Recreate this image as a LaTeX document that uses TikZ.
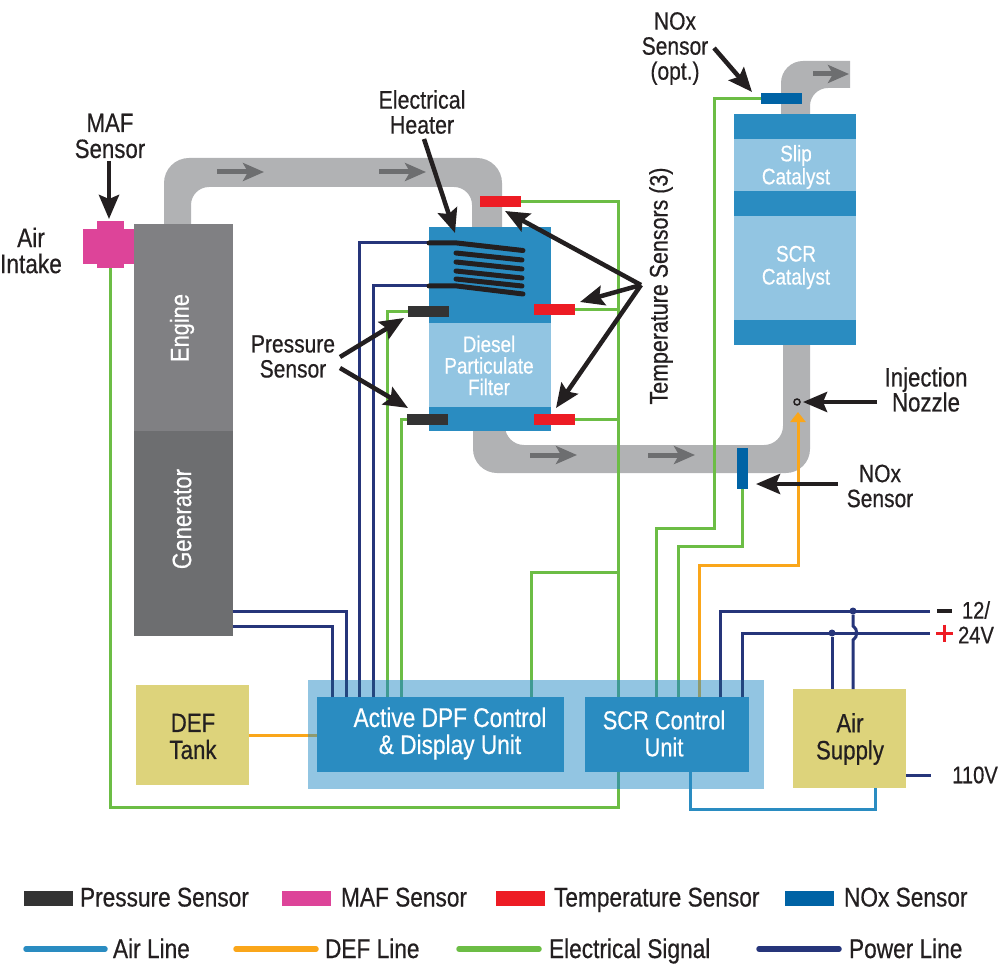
\documentclass[tikz,border=0pt]{standalone}
\usepackage{fontspec}
\setmainfont[FakeStretch=0.84,FakeBold=0.5]{Liberation Sans}
\usetikzlibrary{arrows.meta}
\definecolor{pipegray}{HTML}{B1B2B4}
\definecolor{flowgray}{HTML}{6D6E70}
\definecolor{enginegray}{HTML}{808083}
\definecolor{gengray}{HTML}{6D6E70}
\definecolor{ink}{HTML}{231F20}
\definecolor{boxblue}{HTML}{2A8CC1}
\definecolor{paleblue}{HTML}{92C5E2}
\definecolor{sand}{HTML}{DDD37B}
\definecolor{sigline}{HTML}{6CBD45}
\definecolor{powline}{HTML}{26357A}
\definecolor{defline}{HTML}{FAA61A}
\definecolor{sensdark}{HTML}{333333}
\definecolor{sensred}{HTML}{ED1C24}
\definecolor{sensnox}{HTML}{0063A5}
\definecolor{sensmaf}{HTML}{DD4499}
\definecolor{sigplate}{HTML}{3F9A93}
\definecolor{powplate}{HTML}{24477F}
\definecolor{defplate}{HTML}{8F9A6E}
\tikzset{
  block/.style 2 args={rectangle,inner sep=0pt,outer sep=0pt,minimum width=#1,minimum height=#2},
  sensorbar/.style={block={41pt}{11pt}},
  keybar/.style={block={49pt}{15pt},anchor=west},
  lbl/.style={inner sep=0pt,outer sep=0pt,align=center,text=ink,font=\fontsize{24}{25}\selectfont},
  sized/.style 2 args={font=\fontsize{#1}{#2}\selectfont},
  whitelbl/.style={lbl,text=white},
  smalllbl/.style={whitelbl,sized={22.5}{21.5}},
  pipe/.style={fill=pipegray},
  flow/.style={draw=flowgray,line width=5pt,-{Stealth[length=21pt,width=18pt,inset=5pt]}},
  callout/.style={draw=ink,line width=4.5pt,-{Stealth[length=24pt,width=20pt,inset=4pt]}},
  wire/.style={line width=3pt},
  sig/.style={wire,draw=sigline},
  pow/.style={wire,draw=powline},
  defl/.style={wire,draw=defline},
  airl/.style={wire,draw=boxblue},
  coil/.style={draw=ink,line width=5pt,line cap=round},
  keyline/.style={line width=5.5pt,line cap=round},
  keytext/.style={lbl,sized={27}{27},anchor=base west},
  joint/.style={circle,fill=powline,minimum size=7pt,inner sep=0pt,outer sep=0pt},
}
\begin{document}
\begin{tikzpicture}[x=1pt,y=-1pt]
\useasboundingbox (0,0) rectangle (1000,965);

% exhaust piping
\fill[pipe] (164,226) [rounded corners=25pt] -- (164,158) -- (502,158) [rounded corners=0pt] -- (502,230) -- (472,230) [rounded corners=18pt] -- (472,187) -- (191,187) [rounded corners=0pt] -- (191,226) -- cycle;
\fill[pipe] (473,428) [rounded corners=24pt] -- (473,473) -- (810,473) [rounded corners=0pt] -- (810,342) -- (783,342) [rounded corners=19pt] -- (783,445) -- (505,445) [rounded corners=0pt] -- (505,428) -- cycle;
\fill[pipe] (781,116) [rounded corners=22pt] -- (781,61) [rounded corners=0pt] -- (850,61) -- (850,88) [rounded corners=18pt] -- (810,88) [rounded corners=0pt] -- (810,116) -- cycle;

% flow direction marks
\coordinate (f1a) at (217,172); \coordinate (f1b) at (264,172);
\coordinate (f2a) at (379,172); \coordinate (f2b) at (426,172);
\coordinate (f3a) at (530,455); \coordinate (f3b) at (577,455);
\coordinate (f4a) at (648,455); \coordinate (f4b) at (695,455);
\coordinate (f5a) at (813,74);  \coordinate (f5b) at (849,74);
\draw[flow] (f1a) -- (f1b);
\draw[flow] (f2a) -- (f2b);
\draw[flow] (f3a) -- (f3b);
\draw[flow] (f4a) -- (f4b);
\draw[flow] (f5a) -- (f5b);

% engine and generator
\node[block={99pt}{207pt},fill=enginegray] (engine) at (183,327.5) {};
\node[block={99pt}{205pt},fill=gengray] (generator) at (183,533.5) {};
\node[whitelbl,sized={26}{25},rotate=90] (enginetxt) at (182,328) {Engine};
\node[whitelbl,sized={26.5}{25},rotate=90] (gentxt) at (182,519) {Generator};

% diesel particulate filter
\node[block={122pt}{96pt},fill=boxblue] (dpfA) at (490,275) {};
\node[block={122pt}{84pt},fill=paleblue] (dpfB) at (490,365) {};
\node[block={122pt}{24pt},fill=boxblue] (dpfC) at (490,419) {};
\node[smalllbl] (dpftxt) at (489,365.5) {Diesel\\Particulate\\Filter};

% catalyst housing
\node[block={122pt}{25pt},fill=boxblue] (catA) at (795,126.5) {};
\node[block={122pt}{52pt},fill=paleblue] (catB) at (795,165) {};
\node[block={122pt}{25pt},fill=boxblue] (catC) at (795,203.5) {};
\node[block={122pt}{104pt},fill=paleblue] (catD) at (795,268) {};
\node[block={122pt}{25pt},fill=boxblue] (catE) at (795,332.5) {};
\node[smalllbl,sized={22.5}{23}] (sliptxt) at (796,167) {Slip\\Catalyst};
\node[smalllbl,sized={22.5}{23}] (scrtxt) at (796,267.5) {SCR\\Catalyst};

% control cabinet, tank and air supply
\node[block={456pt}{109pt},fill=paleblue] (plate) at (536,734.5) {};
\node[block={247pt}{75pt},fill=boxblue] (dpfunit) at (440.5,734.5) {};
\node[block={164pt}{75pt},fill=boxblue] (scrunit) at (667,734.5) {};
\node[block={113pt}{100pt},fill=sand] (tank) at (192.5,735) {};
\node[block={113pt}{99pt},fill=sand] (airsup) at (849.5,738.5) {};

% sensors
\node[sensorbar,fill=sensred] (t1) at (500.5,201.5) {};
\node[sensorbar,fill=sensred] (t2) at (554.5,309.5) {};
\node[sensorbar,fill=sensred] (t3) at (554.5,419.5) {};
\node[sensorbar,fill=sensdark] (p1) at (428.5,311.5) {};
\node[sensorbar,fill=sensdark] (p2) at (427,419.5) {};
\node[sensorbar,fill=sensnox] (n1) at (781.5,99) {};
\node[block={11pt}{41pt},fill=sensnox] (n2) at (742.5,468.5) {};
\node[circle,draw=ink,line width=1.5pt,minimum size=6pt,inner sep=0pt,outer sep=0pt] (nozzle) at (797,402) {};

% wire landing points on the control units
\coordinate (d1) at (332,697); \coordinate (d2) at (346,697);
\coordinate (d3) at (359,697); \coordinate (d4) at (373,697);
\coordinate (d5) at (387,697); \coordinate (d6) at (401,697);
\coordinate (d7) at (531,697); \coordinate (s0) at (618,697);
\coordinate (s1) at (656,697); \coordinate (s2) at (678,697);
\coordinate (s3) at (699,697); \coordinate (s4) at (720,697);
\coordinate (s5) at (742,697); \coordinate (s6) at (618,772);
\coordinate (s7) at (690,772);
\coordinate (mafend) at (110,267);
\coordinate (h1) at (429,243); \coordinate (h4) at (429,286);

% signal wiring
\draw[sig] (t1.east) -- (618,201.5) -- (s0);
\draw[sig] (s6) -- (618,807) -- (110,807) -- (mafend);
\draw[sig] (t2.east) -- (618,309.5);
\draw[sig] (t3.east) -- (618,419.5);
\draw[sig] (p1.west) -- (387,311.5) -- (d5);
\draw[sig] (p2.west) -- (401,419.5) -- (d6);
\draw[sig] (d7) -- (531,572) -- (618,572);
\draw[sig] (s1) -- (656,528) -- (714,528) -- (714,99) -- (n1.west);
\draw[sig] (s2) -- (678,546) -- (742.5,546) -- (n2.south);

% power wiring
\draw[pow] (232.5,611) -- (346,611) -- (d2);
\draw[pow] (232.5,626) -- (332,626) -- (d1);
\draw[pow] (h1) -- (359,243) -- (d3);
\draw[pow] (h4) -- (373,286) -- (d4);
\coordinate (minus) at (930,611);
\coordinate (plus) at (930,633);
\node[joint] (jm) at (853,611) {};
\node[joint] (jp) at (832,633) {};
\draw[pow] (s4) -- (720,611) -- (minus);
\draw[pow] (s5) -- (742,633) -- (plus);
\draw[pow] (jp) -- (832,689);
\draw[pow] (jm) -- (853,626) .. controls (858,629) and (858,637) .. (853,640) -- (853,689);
\coordinate (mains) at (931,775);
\draw[pow] (906,775) -- (mains);

% urea dosing lines
\draw[defl,-{Triangle[length=10pt,width=15pt]}] (s3) -- (699,565) -- (798,565) -- (798,412);
\draw[defl] (tank.east) -- (308,735);

% compressed air line
\draw[airl] (s7) -- (690,809) -- (875,809) -- (875,788);

% wires seen through the translucent cabinet plate
\draw[wire,draw=powplate] (d1) -- (332,680);
\draw[wire,draw=powplate] (d2) -- (346,680);
\draw[wire,draw=powplate] (d3) -- (359,680);
\draw[wire,draw=powplate] (d4) -- (373,680);
\draw[wire,draw=sigplate] (d5) -- (387,680);
\draw[wire,draw=sigplate] (d6) -- (401,680);
\draw[wire,draw=sigplate] (d7) -- (531,680);
\draw[wire,draw=sigplate] (s0) -- (618,680);
\draw[wire,draw=sigplate] (s6) -- (618,789);
\draw[wire,draw=sigplate] (s1) -- (656,680);
\draw[wire,draw=sigplate] (s2) -- (678,680);
\draw[wire,draw=defplate] (s3) -- (699,680);
\draw[wire,draw=powplate] (s4) -- (720,680);
\draw[wire,draw=powplate] (s5) -- (742,680);
\draw[wire,draw=defplate] (308,735) -- (317,735);

% mass air flow sensor
\node[block={51pt}{35pt},fill=sensmaf] (mafh) at (108.5,246.5) {};
\node[block={27pt}{47pt},fill=sensmaf] (maf) at (110.5,244.5) {};

% heater coil
\coordinate (h2) at (457,243); \coordinate (h3) at (523,250.5);
\coordinate (h5) at (457,286); \coordinate (h6) at (523,294);
\draw[coil] (h1) -- (h2) -- (h3);
\draw[coil] (h4) -- (h5) -- (h6);
\coordinate (c1a) at (456,253); \coordinate (c1b) at (522,260);
\coordinate (c2a) at (456,262); \coordinate (c2b) at (522,269);
\coordinate (c3a) at (456,271); \coordinate (c3b) at (522,278);
\coordinate (c4a) at (456,279); \coordinate (c4b) at (522,286);
\draw[coil] (c1a) -- (c1b);
\draw[coil] (c2a) -- (c2b);
\draw[coil] (c3a) -- (c3b);
\draw[coil] (c4a) -- (c4b);

% unit labels
\node[whitelbl,sized={27}{27}] (dpfunittxt) at (450,733.5) {Active DPF Control\\\& Display Unit};
\node[whitelbl,sized={26}{27}] (scrunittxt) at (664,733.5) {SCR Control\\Unit};
\node[lbl,sized={26.5}{27}] (tanktxt) at (193,736.5) {DEF\\Tank};
\node[lbl,sized={26.5}{27}] (airtxt) at (850,739) {Air\\Supply};

% component labels
\node[lbl,sized={26.5}{26}] (maftxt) at (110,136) {MAF\\Sensor};
\node[lbl,sized={27}{26}] (intaketxt) at (31,250.5) {Air\\Intake};
\node[lbl,sized={25.5}{25}] (heatertxt) at (422,112) {Electrical\\Heater};
\node[lbl,sized={25}{25}] (noxopttxt) at (675,48.5) {NOx\\Sensor\\(opt.)};
\node[lbl,sized={25}{25}] (presstxt) at (293,356.5) {Pressure\\Sensor};
\node[lbl,sized={25.5}{25},rotate=90] (temptxt) at (661,286) {Temperature Sensors (3)};
\node[lbl,sized={26.5}{25}] (injtxt) at (926,389.5) {Injection\\Nozzle};
\node[lbl,sized={25}{25}] (noxtxt) at (880,486) {NOx\\Sensor};

% supply terminals
\node[lbl] (v12) at (976,610) {12/};
\node[lbl] (v24) at (976,635) {24V};
\node[lbl] (v110) at (975,775) {110V};
\coordinate (ma) at (937,611); \coordinate (mb) at (952,611);
\coordinate (pa) at (936,633); \coordinate (pb) at (953,633);
\coordinate (pc) at (944.5,624.5); \coordinate (pd) at (944.5,641.5);
\draw[draw=ink,line width=3.6pt] (ma) -- (mb);
\draw[draw=sensred,line width=3pt] (pa) -- (pb);
\draw[draw=sensred,line width=3pt] (pc) -- (pd);

% callout arrows
\coordinate (mafA) at (109,161); \coordinate (mafB) at (109,219);
\draw[callout] (mafA) -- (mafB);
\coordinate (heatA) at (424,139); \coordinate (heatB) at (455,233);
\draw[callout] (heatA) -- (heatB);
\coordinate (tempO) at (641,285);
\coordinate (tempA) at (505,211); \coordinate (tempB) at (580,302); \coordinate (tempC) at (556,408);
\draw[callout] (tempO) -- (tempA);
\draw[callout] (tempO) -- (tempB);
\draw[callout] (tempO) -- (tempC);
\coordinate (pressA) at (340,357); \coordinate (pressB) at (404,318);
\coordinate (pressC) at (340,368); \coordinate (pressD) at (408,408);
\draw[callout] (pressA) -- (pressB);
\draw[callout] (pressC) -- (pressD);
\coordinate (noxoA) at (714,48); \coordinate (noxoB) at (752,92);
\draw[callout] (noxoA) -- (noxoB);
\coordinate (injA) at (877,402); \coordinate (injB) at (803,402);
\draw[callout] (injA) -- (injB);
\coordinate (noxA) at (838,484); \coordinate (noxB) at (756,484);
\draw[callout] (noxA) -- (noxB);

% key: sensors
\node[keybar,fill=sensdark] (k1) at (24,898) {};
\node[keytext] (k1t) at (80,906.5) {Pressure Sensor};
\node[keybar,fill=sensmaf] (k2) at (282,898) {};
\node[keytext] (k2t) at (341,906.5) {MAF Sensor};
\node[keybar,fill=sensred] (k3) at (496,898) {};
\node[keytext] (k3t) at (554,906.5) {Temperature Sensor};
\node[keybar,fill=sensnox] (k4) at (785,898) {};
\node[keytext] (k4t) at (844,906.5) {NOx Sensor};

% key: lines
\coordinate (l1a) at (26,949); \coordinate (l1b) at (105,949);
\coordinate (l2a) at (236,949); \coordinate (l2b) at (316,949);
\coordinate (l3a) at (459,949); \coordinate (l3b) at (539,949);
\coordinate (l4a) at (759,949); \coordinate (l4b) at (839,949);
\draw[keyline,draw=boxblue] (l1a) -- (l1b);
\draw[keyline,draw=defline] (l2a) -- (l2b);
\draw[keyline,draw=sigline] (l3a) -- (l3b);
\draw[keyline,draw=powline] (l4a) -- (l4b);
\node[keytext] (l1t) at (113,958) {Air Line};
\node[keytext] (l2t) at (325,958) {DEF Line};
\node[keytext] (l3t) at (549,958) {Electrical Signal};
\node[keytext] (l4t) at (849,958) {Power Line};
\end{tikzpicture}
\end{document}
